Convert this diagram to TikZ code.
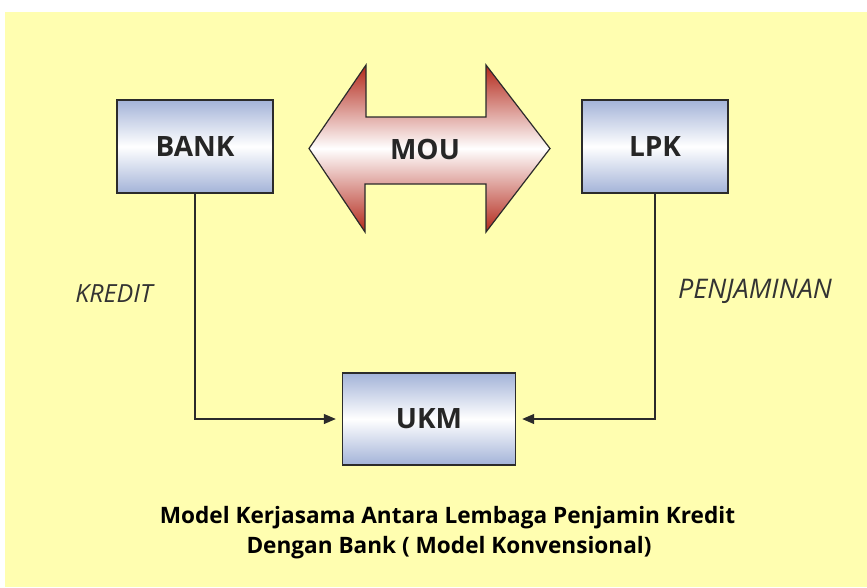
\documentclass[tikz,border=0pt]{standalone}
\usepackage{fontspec}
\setmainfont{Open Sans}
\usetikzlibrary{arrows.meta}
\definecolor{bgyellow}{HTML}{FFFEB0}
\definecolor{boxblue}{HTML}{A3B3D8}
\definecolor{arrred}{HTML}{B3281A}
\definecolor{edge}{HTML}{2B2B2B}
\definecolor{labelgray}{HTML}{333333}
\tikzset{
  boxnode/.style={draw=edge, line width=1.4pt, rectangle, top color=boxblue, bottom color=boxblue, middle color=white,
    font=\bfseries\fontsize{28}{32}\selectfont, text=black!85, inner sep=0pt},
  conn/.style={draw=edge, line width=1.2pt, -{Triangle[length=12pt,width=10pt]}, shorten >=6pt},
  sidelabel/.style={font=\itshape\fontsize{25}{28}\selectfont, text=labelgray},
  titletext/.style={font=\bfseries\fontsize{22.6}{30}\selectfont, text=black, align=center}
}
\begin{document}
\begin{tikzpicture}[x=1pt,y=-1pt]
\useasboundingbox (0,0) rectangle (867,587);
\fill[bgyellow] (5,12) rectangle (867,587);
% MOU double arrow
\shade[top color=arrred, bottom color=arrred, middle color=white, draw=edge, line width=1.2pt]
  (309,148.5) -- (366,65) -- (366,117) -- (486,117) -- (486,65) -- (550,148.5)
  -- (486,232) -- (486,184) -- (365,184) -- (365,232) -- cycle;
\node[font=\bfseries\fontsize{28}{32}\selectfont, text=black!85] (MOU) at (425,149) {MOU};
% boxes
\node[boxnode, minimum width=156pt, minimum height=93pt] (BANK) at (195,146.5) {BANK};
\node[boxnode, minimum width=146pt, minimum height=93pt] (LPK) at (655,146.5) {LPK};
\node[boxnode, minimum width=173pt, minimum height=92pt] (UKM) at (429,419) {UKM};
% connectors
\draw[conn] (BANK.south) |- (UKM.west);
\draw[conn] (LPK.south) |- (UKM.east);
% labels
\node[sidelabel] (KREDIT) at (114,294) {KREDIT};
\node[sidelabel, font=\itshape\fontsize{27}{30}\selectfont] (PENJ) at (755,291) {PENJAMINAN};
% title
\node[titletext] (T1) at (447.5,518) {Model Kerjasama Antara Lembaga Penjamin Kredit};
\node[titletext] (T2) at (449,548) {Dengan Bank ( Model Konvensional)};
\end{tikzpicture}
\end{document}
